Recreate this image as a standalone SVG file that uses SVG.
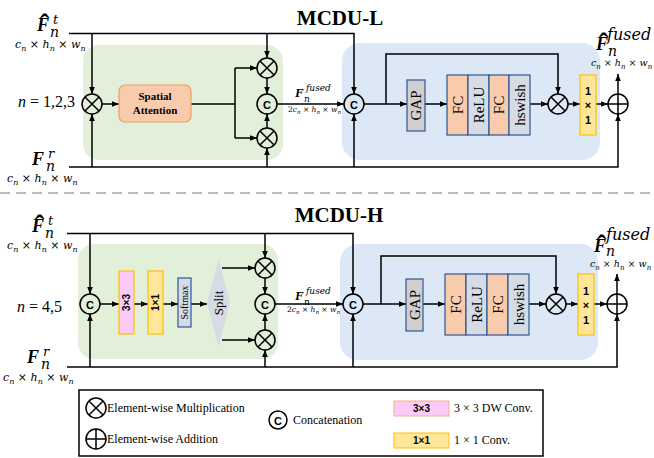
<svg xmlns="http://www.w3.org/2000/svg" xmlns:xlink="http://www.w3.org/1999/xlink" width="654" height="458" viewBox="0 0 654 458">
<style>
.ln{fill:none;stroke:#000;stroke-width:1.5}
.ar{fill:none;stroke:#000;stroke-width:1.5;marker-end:url(#ah)}
.sym{fill:none;stroke:#000;stroke-width:1.5}
.ctxt{font-family:"Liberation Sans",Arial,sans-serif;font-weight:bold;font-size:11px;text-anchor:middle;dominant-baseline:central}
.title{font-family:"Liberation Serif","Times New Roman",serif;font-weight:bold;font-size:21px;text-anchor:middle}
.serif{font-family:"Liberation Serif","Times New Roman",serif}
.rot{font-family:"Liberation Serif","Times New Roman",serif;text-anchor:middle;dominant-baseline:central}
.bF{font-family:"Liberation Serif","Times New Roman",serif;font-weight:bold;font-style:italic}
.mi{font-family:"DejaVu Serif",serif;font-style:italic}
.up{font-style:normal}
.hat{font-family:"Liberation Serif","Times New Roman",serif;font-weight:bold;font-style:normal}
.green{fill:#e2efd9}
.blue{fill:#dce8f5}
.fc{fill:#f8cbad;stroke:#2f5597;stroke-width:1.2}
.gr{fill:#d6dce5;stroke:#2f5597;stroke-width:1.2}
.gap{fill:#d0cece;stroke:#2f5597;stroke-width:1.2}
.yel{fill:#ffe699;stroke:#ffc000;stroke-width:1.2}
.pink{fill:#fbcaf6;stroke:#ffc000;stroke-width:1.2}
.bs{font-family:"Liberation Sans",Arial,sans-serif;font-weight:bold}
</style>
<defs>
<marker id="ah" viewBox="0 0 10 10" refX="10" refY="5" markerWidth="7" markerHeight="7" orient="auto" markerUnits="userSpaceOnUse"><path d="M0,1 L10,5 L0,9 z" fill="#000"/></marker>
<g id="mulSym"><circle r="10" class="sym"/><path d="M-7.07,-7.07 L7.07,7.07 M7.07,-7.07 L-7.07,7.07" class="sym"/></g>
<g id="addSym"><circle r="10" class="sym"/><path d="M-10,0 H10 M0,-10 V10" class="sym"/></g>
<circle id="catSym" r="10" class="sym"/>
</defs>

<!-- ============ MCDU-L ============ -->
<text class="title" x="340" y="25">MCDU-L</text>
<rect class="green" x="83" y="45" width="200" height="115" rx="16"/>
<rect class="blue" x="342" y="43" width="258" height="117" rx="18"/>

<g id="connectors-L">
<path class="ar" d="M69,33.5 H354 V94"/>
<path class="ar" d="M92,33.5 V94"/>
<path class="ar" d="M69,167 H618 V114"/>
<path class="ar" d="M92,167 V114"/>
<path class="ar" d="M102,104 H119"/>
<path class="ln" d="M191,104 H235 M235,68 V138"/>
<path class="ar" d="M235,68 H257"/>
<path class="ar" d="M235,138 H257"/>
<path class="ar" d="M267,33.5 V58"/>
<path class="ar" d="M267,78 V94"/>
<path class="ar" d="M267,128 V114"/>
<path class="ar" d="M267,167 V148"/>
<path class="ar" d="M277,104 H344"/>
<path class="ar" d="M364,104 H407"/>
<path class="ar" d="M386,104 V54 H558 V94"/>
<path class="ar" d="M425,104 H447"/>
<path class="ar" d="M530,104 H548"/>
<path class="ar" d="M568,104 H580"/>
<path class="ar" d="M596,104 H608"/>
<path class="ar" d="M618,94 V74"/>
<path class="ar" d="M354,167 V114"/>
</g>

<g id="L-mul-in"><use xlink:href="#mulSym" x="92" y="104"/></g>
<g id="L-sa"><rect x="119" y="85" width="72" height="37" rx="6" fill="#f8cbad" stroke="#f0a060" stroke-width="1.2"/>
<text class="serif" font-weight="bold" font-size="11" text-anchor="middle" x="155" y="100">Spatial<tspan x="155" y="114">Attention</tspan></text></g>
<g id="L-mul-top"><use xlink:href="#mulSym" x="267" y="68"/></g>
<g id="L-cat"><use xlink:href="#catSym" x="267" y="104"/><text class="ctxt" x="267" y="104.5">C</text></g>
<g id="L-mul-bot"><use xlink:href="#mulSym" x="267" y="138"/></g>
<g id="L-cat2"><use xlink:href="#catSym" x="354" y="104"/><text class="ctxt" x="354" y="104.5">C</text></g>
<g id="L-gap"><rect class="gap" x="407" y="80" width="18" height="51"/><text class="rot" font-size="15" transform="translate(416,105.5) rotate(-90)">GAP</text></g>
<g id="L-fc1"><rect class="fc" x="447" y="75" width="21" height="60"/><text class="rot" font-size="15" transform="translate(457.5,105) rotate(-90)">FC</text></g>
<g id="L-relu"><rect class="gr" x="468" y="75" width="21" height="60"/><text class="rot" font-size="15" transform="translate(478.5,105) rotate(-90)">ReLU</text></g>
<g id="L-fc2"><rect class="fc" x="489" y="75" width="20" height="60"/><text class="rot" font-size="15" transform="translate(499,105) rotate(-90)">FC</text></g>
<g id="L-hswish"><rect class="gr" x="509" y="75" width="21" height="60"/><text class="rot" font-size="15" transform="translate(519.5,105) rotate(-90)">hswish</text></g>
<g id="L-mul-se"><use xlink:href="#mulSym" x="558" y="104"/></g>
<g id="L-conv1"><rect class="yel" x="580" y="75" width="16" height="60"/>
<text class="bs" font-size="11" text-anchor="middle" x="588" y="95">1<tspan x="588" y="109">×</tspan><tspan x="588" y="124">1</tspan></text></g>
<g id="L-add"><use xlink:href="#addSym" x="618" y="104"/></g>

<g id="L-labels">
<text class="mi" font-size="13"><tspan class="bF" x="37" y="31" font-size="18">F</tspan><tspan class="hat" x="40" y="33" font-size="28">ˆ</tspan><tspan x="53" y="24">t</tspan><tspan x="50" y="37" font-size="14">n</tspan></text>
<text class="mi" x="15" y="48" font-size="11">c<tspan font-size="8" dy="3">n</tspan><tspan class="up" dy="-3"> × </tspan>h<tspan font-size="8" dy="3">n</tspan><tspan class="up" dy="-3"> × </tspan>w<tspan font-size="8" dy="3">n</tspan></text>
<text class="serif" x="18" y="107" font-size="16"><tspan font-style="italic">n</tspan> = 1,2,3</text>
<text class="mi" font-size="13"><tspan class="bF" x="32" y="165" font-size="18">F</tspan><tspan x="48" y="158">r</tspan><tspan x="46" y="171" font-size="14">n</tspan></text>
<text class="mi" x="7" y="182" font-size="11">c<tspan font-size="8" dy="3">n</tspan><tspan class="up" dy="-3"> × </tspan>h<tspan font-size="8" dy="3">n</tspan><tspan class="up" dy="-3"> × </tspan>w<tspan font-size="8" dy="3">n</tspan></text>
<text class="mi" font-size="9"><tspan class="bF" x="295" y="97" font-size="13">F</tspan><tspan x="306" y="91">fused</tspan><tspan x="304" y="102">n</tspan></text>
<text class="mi" x="288" y="112" font-size="7.5"><tspan class="up">2</tspan>c<tspan font-size="5.5" dy="2">n</tspan><tspan class="up" dy="-2"> × </tspan>h<tspan font-size="5.5" dy="2">n</tspan><tspan class="up" dy="-2"> × </tspan>w<tspan font-size="5.5" dy="2">n</tspan></text>
<text class="mi" font-size="16"><tspan class="bF" x="596" y="50" font-size="18">F</tspan><tspan class="hat" x="599" y="52" font-size="28">ˆ</tspan><tspan x="607" y="40">fused</tspan><tspan x="608" y="56" font-size="14">n</tspan></text>
<text class="mi" x="591" y="66" font-size="9.5">c<tspan font-size="7" dy="2.5">n</tspan><tspan class="up" dy="-2.5"> × </tspan>h<tspan font-size="7" dy="2.5">n</tspan><tspan class="up" dy="-2.5"> × </tspan>w<tspan font-size="7" dy="2.5">n</tspan></text>
</g>

<line x1="0" y1="193" x2="654" y2="193" stroke="#a6a6a6" stroke-width="1.5" stroke-dasharray="10 6"/>

<!-- ============ MCDU-H ============ -->
<text class="title" x="339" y="222">MCDU-H</text>
<rect class="green" x="78" y="244" width="200" height="115" rx="16"/>
<rect class="blue" x="340" y="244" width="258" height="116" rx="18"/>

<g id="connectors-H">
<path class="ar" d="M67,233.5 H353 V294"/>
<path class="ar" d="M90,233.5 V294"/>
<path class="ar" d="M67,367 H617 V314"/>
<path class="ar" d="M90,367 V314"/>
<path class="ar" d="M100,304 H119"/>
<path class="ar" d="M134,304 H148"/>
<path class="ar" d="M163,304 H178"/>
<path class="ar" d="M191,304 H207"/>
<path class="ar" d="M222,268 H255"/>
<path class="ar" d="M222,340 H255"/>
<path class="ar" d="M265,233.5 V258"/>
<path class="ar" d="M265,278 V294"/>
<path class="ar" d="M265,330 V314"/>
<path class="ar" d="M265,367 V350"/>
<path class="ar" d="M275,304 H343"/>
<path class="ar" d="M363,304 H406"/>
<path class="ar" d="M381,304 V256 H556 V294"/>
<path class="ar" d="M423,304 H445"/>
<path class="ar" d="M529,304 H546"/>
<path class="ar" d="M566,304 H578"/>
<path class="ar" d="M594,304 H607"/>
<path class="ar" d="M617,294 V274"/>
<path class="ar" d="M353,367 V314"/>
</g>

<g id="H-cat-in"><use xlink:href="#catSym" x="90" y="304"/><text class="ctxt" x="90" y="304.5">C</text></g>
<g id="H-dw3"><rect class="pink" x="119" y="271" width="15" height="63"/><text class="bs" font-size="10" text-anchor="middle" dominant-baseline="central" transform="translate(126.5,302.5) rotate(-90)">3×3</text></g>
<g id="H-conv1a"><rect class="yel" x="148" y="271" width="15" height="63"/><text class="bs" font-size="10" text-anchor="middle" dominant-baseline="central" transform="translate(155.5,302.5) rotate(-90)">1×1</text></g>
<g id="H-softmax"><rect class="gr" x="178" y="278" width="13" height="49"/><text class="rot" font-size="10" transform="translate(184.5,302.5) rotate(-90)">Softmax</text></g>
<g id="H-split"><polygon points="218.5,259 230,303 218.5,347 207,303" fill="#d6dce5"/><text class="rot" font-size="13" transform="translate(218.5,303) rotate(-90)">Split</text></g>
<g id="H-mul-top"><use xlink:href="#mulSym" x="265" y="268"/></g>
<g id="H-cat"><use xlink:href="#catSym" x="265" y="304"/><text class="ctxt" x="265" y="304.5">C</text></g>
<g id="H-mul-bot"><use xlink:href="#mulSym" x="265" y="340"/></g>
<g id="H-cat2"><use xlink:href="#catSym" x="353" y="304"/><text class="ctxt" x="353" y="304.5">C</text></g>
<g id="H-gap"><rect class="gap" x="406" y="279" width="17" height="52"/><text class="rot" font-size="15" transform="translate(414.5,305) rotate(-90)">GAP</text></g>
<g id="H-fc1"><rect class="fc" x="445" y="274" width="21" height="61"/><text class="rot" font-size="15" transform="translate(455.5,304.5) rotate(-90)">FC</text></g>
<g id="H-relu"><rect class="gr" x="466" y="274" width="21" height="61"/><text class="rot" font-size="15" transform="translate(476.5,304.5) rotate(-90)">ReLU</text></g>
<g id="H-fc2"><rect class="fc" x="487" y="274" width="21" height="61"/><text class="rot" font-size="15" transform="translate(497.5,304.5) rotate(-90)">FC</text></g>
<g id="H-hswish"><rect class="gr" x="508" y="274" width="21" height="61"/><text class="rot" font-size="15" transform="translate(518.5,304.5) rotate(-90)">hswish</text></g>
<g id="H-mul-se"><use xlink:href="#mulSym" x="556" y="304"/></g>
<g id="H-conv1b"><rect class="yel" x="578" y="274" width="16" height="61"/>
<text class="bs" font-size="11" text-anchor="middle" x="586" y="295">1<tspan x="586" y="309">×</tspan><tspan x="586" y="324">1</tspan></text></g>
<g id="H-add"><use xlink:href="#addSym" x="617" y="304"/></g>

<g id="H-labels">
<text class="mi" font-size="13"><tspan class="bF" x="32" y="232" font-size="18">F</tspan><tspan class="hat" x="35" y="234" font-size="28">ˆ</tspan><tspan x="48" y="225">t</tspan><tspan x="45" y="238" font-size="14">n</tspan></text>
<text class="mi" x="7" y="249" font-size="11">c<tspan font-size="8" dy="3">n</tspan><tspan class="up" dy="-3"> × </tspan>h<tspan font-size="8" dy="3">n</tspan><tspan class="up" dy="-3"> × </tspan>w<tspan font-size="8" dy="3">n</tspan></text>
<text class="serif" x="17" y="312" font-size="16"><tspan font-style="italic">n</tspan> = 4,5</text>
<text class="mi" font-size="13"><tspan class="bF" x="27" y="363" font-size="18">F</tspan><tspan x="43" y="356">r</tspan><tspan x="41" y="369" font-size="14">n</tspan></text>
<text class="mi" x="3" y="381" font-size="11">c<tspan font-size="8" dy="3">n</tspan><tspan class="up" dy="-3"> × </tspan>h<tspan font-size="8" dy="3">n</tspan><tspan class="up" dy="-3"> × </tspan>w<tspan font-size="8" dy="3">n</tspan></text>
<text class="mi" font-size="9"><tspan class="bF" x="295" y="300" font-size="13">F</tspan><tspan x="306" y="294">fused</tspan><tspan x="304" y="305">n</tspan></text>
<text class="mi" x="287" y="312" font-size="7.5"><tspan class="up">2</tspan>c<tspan font-size="5.5" dy="2">n</tspan><tspan class="up" dy="-2"> × </tspan>h<tspan font-size="5.5" dy="2">n</tspan><tspan class="up" dy="-2"> × </tspan>w<tspan font-size="5.5" dy="2">n</tspan></text>
<text class="mi" font-size="16"><tspan class="bF" x="594" y="252" font-size="18">F</tspan><tspan class="hat" x="597" y="254" font-size="28">ˆ</tspan><tspan x="606" y="240">fused</tspan><tspan x="606" y="256" font-size="14">n</tspan></text>
<text class="mi" x="590" y="267" font-size="9.5">c<tspan font-size="7" dy="2.5">n</tspan><tspan class="up" dy="-2.5"> × </tspan>h<tspan font-size="7" dy="2.5">n</tspan><tspan class="up" dy="-2.5"> × </tspan>w<tspan font-size="7" dy="2.5">n</tspan></text>
</g>

<!-- ============ Legend ============ -->
<g id="legend">
<rect x="79" y="390" width="464" height="66" fill="#fff" stroke="#000" stroke-width="1.5"/>
<use xlink:href="#mulSym" x="96" y="408"/>
<text class="serif" font-size="12" x="107" y="412">Element-wise Multiplication</text>
<use xlink:href="#addSym" x="96" y="439"/>
<text class="serif" font-size="12" x="107" y="443">Element-wise Addition</text>
<circle cx="278" cy="420" r="9" class="sym"/><text class="ctxt" x="278" y="420.5" font-size="10">C</text>
<text class="serif" font-size="12" x="293" y="424">Concatenation</text>
<rect x="394" y="401" width="55" height="15" fill="#fbcaf6" stroke="#f4b183" stroke-width="1"/>
<text class="bs" font-size="10" text-anchor="middle" x="421.5" y="412">3×3</text>
<text class="serif" font-size="12" x="454" y="412">3 × 3 DW Conv.</text>
<rect x="394" y="433" width="55" height="15" fill="#ffe699" stroke="#ffc000" stroke-width="1"/>
<text class="bs" font-size="10" text-anchor="middle" x="421.5" y="444">1×1</text>
<text class="serif" font-size="12" x="454" y="444">1 × 1 Conv.</text>
</g>
</svg>
